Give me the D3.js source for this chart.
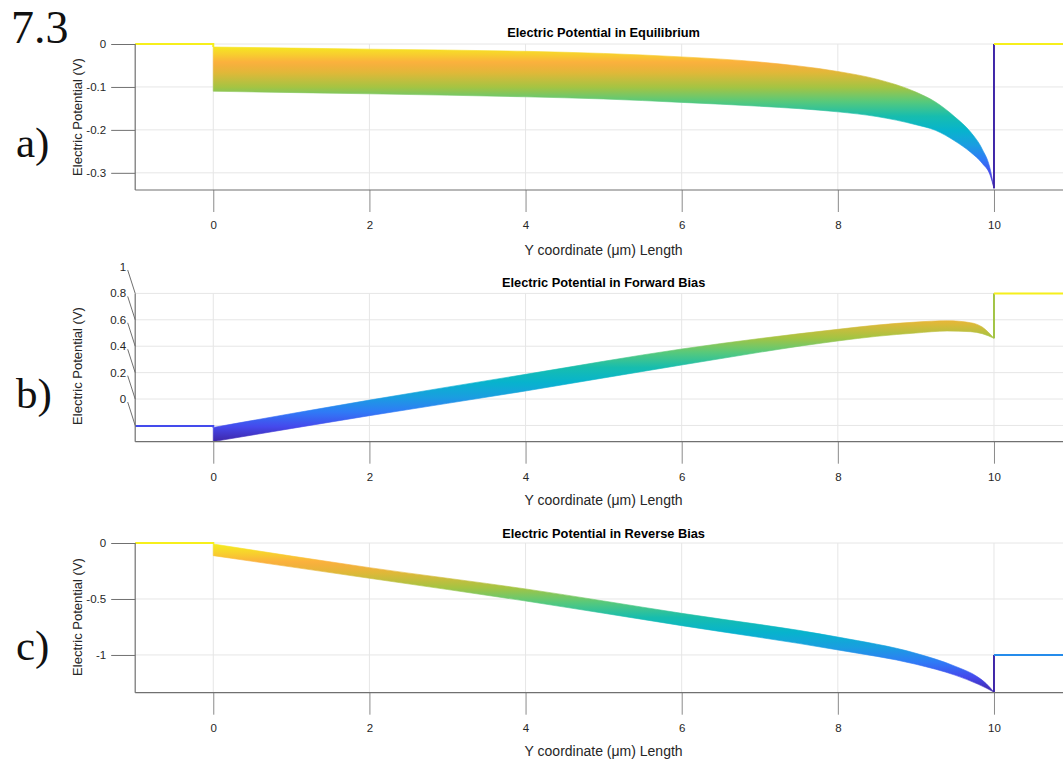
<!DOCTYPE html>
<html><head><meta charset="utf-8">
<script src="https://cdn.jsdelivr.net/npm/d3@7"></script>
<style>body{margin:0;background:#fff} svg{display:block}</style>
</head><body>
<svg id="chart" width="1063" height="763"></svg>
<script>
// ---------- data ----------
const xTicks = [0, 2, 4, 6, 8, 10];
const xLimits = [-1, 11];

// a) equilibrium
const eqX      = [0, 2, 4, 5, 6, 7, 8, 8.5, 9, 9.25, 9.5, 9.7, 9.85, 9.95, 10];
const eqTop    = [-0.007, -0.012, -0.017, -0.022, -0.030, -0.042, -0.064, -0.082, -0.112, -0.135, -0.170, -0.205, -0.245, -0.290, -0.336];
const eqBottom = [-0.110, -0.116, -0.123, -0.128, -0.136, -0.145, -0.158, -0.169, -0.188, -0.201, -0.226, -0.252, -0.278, -0.305, -0.336];
const eqContacts = [0, 0];            // left (x<0), right (x>10)
const eqYTicks = [0, -0.1, -0.2, -0.3];
const eqYLimits = [-0.34, 0];

// b) forward bias
const fwdX      = [0, 2, 4, 6, 8, 8.5, 9, 9.4, 9.7, 9.85, 10];
const fwdTop    = [-0.215, -0.008, 0.187, 0.379, 0.528, 0.560, 0.583, 0.593, 0.578, 0.545, 0.460];
const fwdBottom = [-0.322, -0.126, 0.061, 0.258, 0.440, 0.475, 0.500, 0.515, 0.510, 0.495, 0.460];
const fwdContacts = [-0.205, 0.8];
const fwdYTickLabels = [1, 0.8, 0.6, 0.4, 0.2, 0];
const fwdYGrid = [0.8, 0.6, 0.4, 0.2, 0, -0.2];
const fwdYLimits = [-0.323, 0.8];

// c) reverse bias
const revX      = [0, 2, 4, 6, 8, 9, 9.5, 9.8, 9.9, 10];
const revTop    = [-0.009, -0.220, -0.410, -0.628, -0.840, -0.985, -1.100, -1.200, -1.255, -1.332];
const revBottom = [-0.113, -0.315, -0.518, -0.738, -0.955, -1.083, -1.180, -1.262, -1.295, -1.332];
const revContacts = [0, -1];
const revYTicks = [0, -0.5, -1];
const revYLimits = [-1.337, 0];

const titles = ["Electric Potential in Equilibrium", "Electric Potential in Forward Bias", "Electric Potential in Reverse Bias"];
const xLabel = "Y coordinate (\u03bcm) Length";
const yLabel = "Electric Potential (V)";
const panelLetters = ["a)", "b)", "c)"];

// parula-like colormap (position, colour)
const cmapPos = [0, 0.1, 0.2, 0.3, 0.4, 0.5, 0.6, 0.7, 0.8, 0.87, 0.94, 1];
const cmapCol = ["#3e26a8", "#4549ec", "#2f7af6", "#1a9ee0", "#07b3cd", "#17bdae", "#56c97c", "#a4c443", "#e0b838", "#fbae3e", "#f7d52b", "#f6ef1c"];
const parula = d3.scaleLinear().domain(cmapPos).range(cmapCol).interpolate(d3.interpolateRgb).clamp(true);

// ---------- layout ----------
const svg = d3.select("#chart");
const W = 1063;
const sans = "'Liberation Sans', Arial, Helvetica, sans-serif";
const serif = "'Liberation Serif', 'Times New Roman', serif";
const x = d3.scaleLinear().domain(xLimits).range([135.2, 135.2 + 12 * 78.07]);
const plotLeft = x(xLimits[0]);

const panels = [
  {X: eqX, top: eqTop, bot: eqBottom, contacts: eqContacts, ylim: eqYLimits, yr: [190, 44], grid: eqYTicks, ticks: eqYTicks, slanted: false,
   titleY: 33, xlabY: 250, ylabY: 117, letterY: 157},
  {X: fwdX, top: fwdTop, bot: fwdBottom, contacts: fwdContacts, ylim: fwdYLimits, yr: [441.7, 293.4], grid: fwdYGrid, ticks: fwdYTickLabels, slanted: true,
   titleY: 283, xlabY: 500, ylabY: 366, letterY: 408},
  {X: revX, top: revTop, bot: revBottom, contacts: revContacts, ylim: revYLimits, yr: [692.7, 543], grid: revYTicks, ticks: revYTicks, slanted: false,
   titleY: 534, xlabY: 751, ylabY: 617, letterY: 660}
];

const defs = svg.append("defs");

svg.append("text").attr("x", 11).attr("y", 43).attr("font-family", serif)
  .attr("font-size", 46).attr("fill", "#111").text("7.3");

panels.forEach((p, i) => {
  const y = d3.scaleLinear().domain(p.ylim).range(p.yr);
  const g = svg.append("g");
  const yTop = p.yr[1], yBot = p.yr[0];

  // colour domain from data
  const allVals = p.top.concat(p.bot, p.contacts);
  const vmin = d3.min(allVals), vmax = d3.max(allVals);
  const norm = d3.scaleLinear().domain([vmin, vmax]).range([0, 1]);
  const col = v => parula(norm(v));

  // gridlines
  g.selectAll(".gx").data(xTicks).join("line")
    .attr("x1", d => x(d)).attr("x2", d => x(d)).attr("y1", yTop).attr("y2", yBot)
    .attr("stroke", "#e6e6e6").attr("stroke-width", 1);
  g.selectAll(".gy").data(p.grid).join("line")
    .attr("x1", plotLeft).attr("x2", W).attr("y1", d => y(d)).attr("y2", d => y(d))
    .attr("stroke", "#e6e6e6").attr("stroke-width", 1);

  // gradient (colour by potential)
  const gid = "grad" + i;
  const grad = defs.append("linearGradient").attr("id", gid).attr("gradientUnits", "userSpaceOnUse")
    .attr("x1", 0).attr("x2", 0).attr("y1", y(vmax)).attr("y2", y(vmin));
  d3.range(0, 1.0001, 0.025).forEach(t => {
    grad.append("stop").attr("offset", t).attr("stop-color", parula(1 - t));
  });

  const rows = p.X.map((xv, k) => ({x: xv, t: p.top[k], b: p.bot[k]}));
  const area = d3.area().x(d => x(d.x)).y0(d => y(d.b)).y1(d => y(d.t)).curve(d3.curveMonotoneX);
  g.append("path").attr("d", area(rows)).attr("fill", `url(#${gid})`).attr("stroke", `url(#${gid})`).attr("stroke-width", 0.6);

  // contact lines
  const line = d3.line().x(d => x(d[0])).y(d => y(d[1]));
  const [cl, cr] = p.contacts;
  g.append("path").attr("d", line([[xLimits[0], cl], [0, cl], [0, p.top[0]]])).attr("fill", "none")
    .attr("stroke", col(cl)).attr("stroke-width", 2);
  const endV = p.bot[p.bot.length - 1];
  g.append("path").attr("d", line([[10, endV], [10, cr]])).attr("fill", "none")
    .attr("stroke", col(Math.min(endV, cr))).attr("stroke-width", 2);
  g.append("path").attr("d", line([[10, cr], [xLimits[1], cr]])).attr("fill", "none")
    .attr("stroke", col(cr)).attr("stroke-width", 2);

  // x axis
  const xa = g.append("g").attr("transform", `translate(0,${yBot})`)
    .call(d3.axisBottom(x).tickValues(xTicks).tickSize(22).tickPadding(9).tickSizeOuter(0).tickFormat(d => String(d)));
  xa.select(".domain").remove();
  xa.selectAll(".tick line").attr("stroke", "#8a8a8a");
  xa.selectAll(".tick text").attr("font-family", sans).attr("font-size", 11.5).attr("fill", "#262626");
  g.append("line").attr("x1", plotLeft).attr("x2", W).attr("y1", yBot).attr("y2", yBot).attr("stroke", "#707070").attr("stroke-width", 1.2);

  // y axis
  g.append("line").attr("x1", plotLeft).attr("x2", plotLeft).attr("y1", yTop).attr("y2", yBot).attr("stroke", "#707070").attr("stroke-width", 1.2);
  if (!p.slanted) {
    const ya = g.append("g").attr("transform", `translate(${plotLeft},0)`)
      .call(d3.axisLeft(y).tickValues(p.ticks).tickSize(24).tickPadding(5).tickSizeOuter(0).tickFormat(d => String(d)));
    ya.select(".domain").remove();
    ya.selectAll(".tick line").attr("stroke", "#707070");
    ya.selectAll(".tick text").attr("font-family", sans).attr("font-size", 11.5).attr("fill", "#262626");
  } else {
    g.selectAll(".sl").data(p.ticks).join("line")
      .attr("x1", plotLeft - 7.5).attr("y1", d => y(d) + 3)
      .attr("x2", plotLeft).attr("y2", d => y(d - 0.2))
      .attr("stroke", "#707070").attr("stroke-width", 1);
    g.selectAll(".sl-t").data(p.ticks).join("text")
      .attr("x", plotLeft - 9).attr("y", d => y(d)).attr("dy", "0.35em")
      .attr("text-anchor", "end").attr("font-family", sans).attr("font-size", 11.5).attr("fill", "#262626")
      .text(d => String(d));
  }

  // titles & labels
  g.append("text").attr("x", x(5)).attr("y", p.titleY).attr("dy", "0.35em").attr("text-anchor", "middle")
    .attr("font-family", sans).attr("font-size", 12.8).attr("font-weight", "bold").attr("fill", "#000").text(titles[i]);
  g.append("text").attr("x", x(5)).attr("y", p.xlabY).attr("dy", "0.35em").attr("text-anchor", "middle")
    .attr("font-family", sans).attr("font-size", 14).attr("fill", "#262626").text(xLabel);
  g.append("text").attr("transform", `translate(77,${p.ylabY}) rotate(-90)`).attr("dy", "0.35em").attr("text-anchor", "middle")
    .attr("font-family", sans).attr("font-size", 13).attr("fill", "#262626").text(yLabel);
  svg.append("text").attr("x", 16).attr("y", p.letterY).attr("font-family", serif)
    .attr("font-size", 43).attr("fill", "#111").text(panelLetters[i]);
});
</script>
</body></html>
